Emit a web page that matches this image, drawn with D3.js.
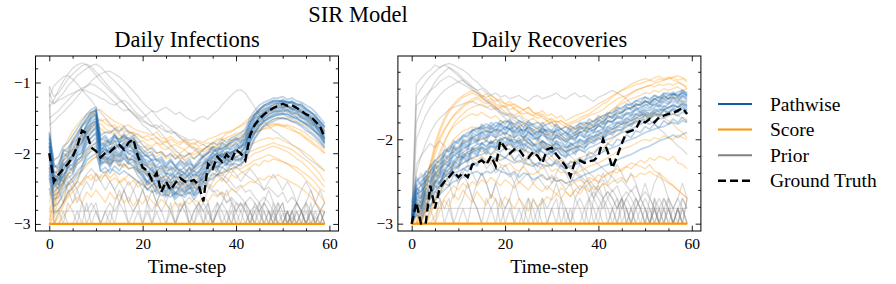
<!DOCTYPE html>
<html><head><meta charset="utf-8">
<script src="https://cdn.jsdelivr.net/npm/d3@7"></script>
<style>
body{margin:0;background:#fff}
svg{display:block;font-family:"Liberation Serif","DejaVu Serif","Noto Serif","Times New Roman",serif}
text{font-family:"Liberation Serif","DejaVu Serif","Noto Serif","Times New Roman",serif;fill:#000}
</style>
</head><body>
<svg id="chart" width="896" height="284"></svg>
<script>
// ---------------- DATA ----------------
const xTicks = [0, 20, 40, 60];
const xMinorTicks = [5, 10, 15, 25, 30, 35, 45, 50, 55];
const infYTicks = [-3, -2, -1];
const recYTicks = [-3, -2];
const legendLabels = ["Pathwise", "Score", "Prior", "Ground Truth"];

const infGroundTruth = [
-2.00,-2.40,-2.30,-2.22,-2.15,-2.05,-1.90,-1.68,-1.72,-1.92,
-1.97,-2.06,-2.00,-1.98,-1.92,-1.88,-1.95,-1.85,-1.80,-2.05,
-2.20,-2.25,-2.38,-2.28,-2.55,-2.40,-2.52,-2.42,-2.35,-2.40,
-2.40,-2.38,-2.45,-2.68,-2.15,-2.22,-2.05,-2.12,-2.02,-2.10,
-1.95,-2.00,-2.10,-1.75,-1.60,-1.52,-1.45,-1.40,-1.36,-1.33,
-1.30,-1.33,-1.32,-1.36,-1.40,-1.45,-1.48,-1.55,-1.62,-1.78];

const infPathwise = [
[-1.80,-2.25,-2.30,-2.05,-2.00,-1.95,-1.80,-1.75,-1.60,-1.52,-1.45,-1.90,-1.82,-1.85,-1.78,-1.80,-1.75,-1.82,-1.85,-1.90,-2.00,-2.05,-2.10,-2.08,-2.15,-2.20,-2.12,-2.18,-2.25,-2.20,-2.15,-2.18,-2.10,-2.05,-2.00,-1.95,-1.98,-1.92,-1.95,-1.90,-1.88,-1.85,-1.80,-1.62,-1.50,-1.42,-1.38,-1.35,-1.30,-1.28,-1.27,-1.30,-1.28,-1.32,-1.35,-1.40,-1.45,-1.50,-1.55,-1.62],
[-1.95,-2.40,-2.38,-2.25,-2.15,-2.10,-1.98,-1.90,-1.72,-1.62,-1.58,-2.00,-1.95,-2.00,-1.90,-1.92,-1.88,-1.95,-1.98,-2.05,-2.12,-2.20,-2.25,-2.30,-2.35,-2.32,-2.38,-2.30,-2.28,-2.35,-2.30,-2.25,-2.28,-2.20,-2.10,-2.05,-2.00,-2.05,-1.98,-2.02,-1.95,-1.92,-1.85,-1.70,-1.58,-1.50,-1.45,-1.40,-1.38,-1.36,-1.34,-1.35,-1.38,-1.40,-1.42,-1.48,-1.52,-1.58,-1.65,-1.72],
[-2.10,-2.45,-2.50,-2.30,-2.25,-2.20,-2.10,-2.05,-1.85,-1.78,-1.72,-2.08,-2.05,-2.10,-2.02,-2.05,-2.00,-2.08,-2.10,-2.15,-2.25,-2.32,-2.40,-2.38,-2.48,-2.45,-2.50,-2.42,-2.40,-2.48,-2.45,-2.40,-2.42,-2.35,-2.20,-2.15,-2.12,-2.15,-2.08,-2.12,-2.05,-2.02,-1.98,-1.80,-1.68,-1.58,-1.52,-1.48,-1.45,-1.42,-1.40,-1.42,-1.45,-1.48,-1.50,-1.55,-1.60,-1.65,-1.72,-1.80],
[-1.75,-2.20,-2.15,-1.98,-1.92,-1.85,-1.72,-1.62,-1.50,-1.42,-1.40,-1.85,-1.88,-1.80,-1.75,-1.85,-1.80,-1.78,-1.88,-1.95,-2.05,-2.02,-2.12,-2.18,-2.10,-2.22,-2.18,-2.25,-2.15,-2.22,-2.28,-2.20,-2.15,-2.12,-2.05,-2.00,-1.92,-1.95,-1.88,-1.85,-1.82,-1.78,-1.70,-1.55,-1.45,-1.38,-1.32,-1.28,-1.26,-1.25,-1.28,-1.27,-1.30,-1.35,-1.38,-1.42,-1.48,-1.52,-1.60,-1.68],
[-2.00,-2.30,-2.35,-2.15,-2.10,-2.02,-1.92,-1.85,-1.68,-1.58,-1.55,-1.95,-2.00,-1.92,-1.95,-1.88,-1.92,-1.90,-1.95,-2.02,-2.15,-2.18,-2.22,-2.28,-2.25,-2.30,-2.28,-2.35,-2.32,-2.28,-2.35,-2.30,-2.32,-2.25,-2.15,-2.08,-2.05,-2.00,-2.02,-1.98,-1.95,-1.90,-1.88,-1.72,-1.60,-1.52,-1.48,-1.42,-1.40,-1.38,-1.36,-1.38,-1.40,-1.42,-1.46,-1.50,-1.55,-1.62,-1.68,-1.78],
[-2.05,-2.42,-2.45,-2.32,-2.20,-2.15,-2.05,-1.98,-1.80,-1.70,-1.65,-2.05,-2.10,-2.05,-1.98,-2.02,-1.95,-2.00,-2.05,-2.10,-2.20,-2.25,-2.30,-2.35,-2.40,-2.38,-2.42,-2.38,-2.45,-2.40,-2.38,-2.45,-2.40,-2.30,-2.18,-2.12,-2.08,-2.10,-2.05,-2.05,-2.00,-1.98,-1.92,-1.75,-1.62,-1.55,-1.50,-1.45,-1.42,-1.40,-1.38,-1.40,-1.42,-1.45,-1.48,-1.52,-1.58,-1.62,-1.70,-1.82],
[-1.85,-2.28,-2.25,-2.10,-2.05,-1.95,-1.85,-1.78,-1.58,-1.50,-1.45,-1.88,-1.90,-1.88,-1.82,-1.85,-1.82,-1.85,-1.90,-1.98,-2.08,-2.10,-2.15,-2.20,-2.18,-2.25,-2.22,-2.20,-2.25,-2.28,-2.22,-2.25,-2.20,-2.15,-2.08,-2.02,-2.00,-1.98,-1.92,-1.95,-1.90,-1.88,-1.82,-1.65,-1.52,-1.45,-1.40,-1.36,-1.32,-1.30,-1.30,-1.32,-1.35,-1.36,-1.40,-1.45,-1.48,-1.55,-1.60,-1.70],
[-2.50,-2.75,-2.70,-2.55,-2.45,-2.40,-2.30,-2.25,-2.10,-2.05,-2.00,-2.25,-2.28,-2.22,-2.25,-2.30,-2.25,-2.30,-2.35,-2.40,-2.45,-2.50,-2.55,-2.52,-2.60,-2.58,-2.62,-2.55,-2.60,-2.58,-2.55,-2.60,-2.55,-2.50,-2.40,-2.35,-2.30,-2.28,-2.25,-2.22,-2.20,-2.15,-2.10,-1.95,-1.80,-1.70,-1.62,-1.58,-1.55,-1.52,-1.50,-1.52,-1.55,-1.58,-1.62,-1.68,-1.72,-1.78,-1.85,-1.92],
[-2.30,-2.85,-2.80,-2.70,-2.55,-2.50,-2.40,-2.20,-2.00,-1.90,-1.85,-2.15,-2.12,-2.15,-2.10,-2.12,-2.08,-2.15,-2.18,-2.25,-2.35,-2.40,-2.45,-2.42,-2.50,-2.48,-2.52,-2.48,-2.50,-2.55,-2.50,-2.48,-2.52,-2.42,-2.28,-2.22,-2.18,-2.20,-2.15,-2.18,-2.10,-2.08,-2.02,-1.85,-1.72,-1.62,-1.55,-1.50,-1.48,-1.45,-1.44,-1.45,-1.48,-1.50,-1.55,-1.58,-1.62,-1.70,-1.75,-1.85],
[-1.90,-2.35,-2.30,-2.18,-2.08,-2.05,-1.88,-1.82,-1.65,-1.55,-1.50,-1.92,-1.95,-1.98,-1.88,-1.90,-1.85,-1.88,-1.92,-2.00,-2.10,-2.15,-2.18,-2.25,-2.22,-2.28,-2.32,-2.25,-2.30,-2.32,-2.28,-2.32,-2.25,-2.18,-2.12,-2.05,-2.02,-2.05,-1.98,-2.00,-1.92,-1.90,-1.85,-1.68,-1.55,-1.48,-1.42,-1.38,-1.35,-1.33,-1.32,-1.34,-1.36,-1.38,-1.42,-1.46,-1.50,-1.56,-1.62,-1.75],
[-1.85,-2.30,-2.42,-2.15,-2.22,-2.00,-1.92,-1.70,-1.62,-1.48,-1.42,-1.98,-1.85,-1.95,-1.82,-1.95,-1.85,-1.92,-1.80,-2.00,-2.05,-2.15,-2.08,-2.25,-2.18,-2.30,-2.20,-2.35,-2.22,-2.30,-2.20,-2.35,-2.28,-2.15,-2.10,-1.98,-2.08,-1.95,-2.02,-1.92,-1.85,-1.95,-1.78,-1.60,-1.48,-1.40,-1.35,-1.32,-1.28,-1.30,-1.25,-1.30,-1.27,-1.33,-1.30,-1.38,-1.42,-1.48,-1.58,-1.65],
[-2.15,-2.50,-2.35,-2.40,-2.18,-2.25,-2.02,-2.00,-1.80,-1.72,-1.62,-2.12,-1.98,-2.15,-2.00,-2.10,-1.95,-2.12,-2.02,-2.20,-2.28,-2.40,-2.32,-2.48,-2.40,-2.55,-2.42,-2.58,-2.45,-2.52,-2.40,-2.55,-2.45,-2.30,-2.25,-2.12,-2.20,-2.05,-2.15,-2.02,-2.05,-2.08,-1.95,-1.78,-1.65,-1.55,-1.50,-1.45,-1.42,-1.40,-1.42,-1.38,-1.45,-1.42,-1.50,-1.52,-1.58,-1.62,-1.72,-1.85],
[-1.70,-2.15,-2.25,-2.00,-2.05,-1.85,-1.80,-1.62,-1.55,-1.45,-1.38,-1.80,-1.75,-1.85,-1.72,-1.82,-1.72,-1.80,-1.75,-1.88,-1.95,-2.00,-1.98,-2.10,-2.05,-2.15,-2.08,-2.18,-2.10,-2.15,-2.08,-2.20,-2.12,-2.02,-1.98,-1.90,-1.95,-1.85,-1.90,-1.82,-1.78,-1.82,-1.72,-1.55,-1.45,-1.38,-1.32,-1.30,-1.25,-1.27,-1.24,-1.28,-1.26,-1.30,-1.32,-1.36,-1.42,-1.46,-1.55,-1.62],
[-2.25,-2.60,-2.55,-2.45,-2.35,-2.30,-2.15,-2.10,-1.95,-1.85,-1.78,-2.18,-2.10,-2.20,-2.08,-2.18,-2.05,-2.15,-2.12,-2.25,-2.32,-2.45,-2.38,-2.52,-2.48,-2.58,-2.50,-2.62,-2.52,-2.58,-2.48,-2.60,-2.50,-2.40,-2.30,-2.20,-2.25,-2.12,-2.18,-2.08,-2.10,-2.12,-2.02,-1.85,-1.72,-1.62,-1.55,-1.52,-1.48,-1.46,-1.45,-1.48,-1.50,-1.52,-1.55,-1.60,-1.65,-1.70,-1.78,-1.88],
[-1.90,-2.35,-2.45,-2.22,-2.12,-2.08,-1.95,-1.85,-1.70,-1.60,-1.50,-1.95,-1.90,-2.02,-1.92,-2.00,-1.90,-1.98,-1.95,-2.08,-2.15,-2.28,-2.20,-2.35,-2.28,-2.40,-2.30,-2.42,-2.32,-2.38,-2.30,-2.42,-2.35,-2.22,-2.18,-2.05,-2.12,-2.00,-2.08,-1.98,-1.98,-2.00,-1.90,-1.72,-1.58,-1.48,-1.42,-1.38,-1.35,-1.32,-1.35,-1.33,-1.38,-1.36,-1.42,-1.45,-1.52,-1.58,-1.66,-1.78],
[-2.00,-2.45,-2.30,-2.35,-2.15,-2.18,-2.00,-1.95,-1.75,-1.65,-1.55,-2.02,-1.92,-2.08,-1.95,-2.05,-1.92,-2.02,-1.98,-2.12,-2.22,-2.32,-2.25,-2.40,-2.35,-2.45,-2.38,-2.50,-2.40,-2.45,-2.35,-2.48,-2.38,-2.28,-2.20,-2.10,-2.15,-2.02,-2.10,-2.00,-1.95,-2.02,-1.88,-1.70,-1.58,-1.50,-1.46,-1.40,-1.38,-1.35,-1.36,-1.34,-1.38,-1.40,-1.44,-1.48,-1.54,-1.60,-1.68,-1.80],
[-1.72,-2.10,-2.05,-1.90,-1.85,-1.75,-1.65,-1.55,-1.45,-1.38,-1.35,-1.75,-1.70,-1.72,-1.65,-1.70,-1.62,-1.70,-1.72,-1.80,-1.88,-1.95,-1.92,-2.00,-1.98,-2.05,-2.00,-2.08,-2.02,-2.05,-2.00,-2.08,-2.02,-1.95,-1.90,-1.85,-1.88,-1.80,-1.85,-1.78,-1.75,-1.72,-1.65,-1.50,-1.40,-1.32,-1.28,-1.25,-1.22,-1.22,-1.20,-1.24,-1.22,-1.26,-1.28,-1.32,-1.36,-1.42,-1.50,-1.58],
[-2.35,-2.65,-2.62,-2.50,-2.42,-2.35,-2.25,-2.18,-2.05,-1.95,-1.90,-2.25,-2.20,-2.28,-2.18,-2.25,-2.15,-2.22,-2.20,-2.32,-2.40,-2.52,-2.45,-2.58,-2.52,-2.62,-2.55,-2.65,-2.58,-2.62,-2.55,-2.65,-2.55,-2.45,-2.38,-2.28,-2.32,-2.20,-2.25,-2.15,-2.15,-2.18,-2.08,-1.92,-1.78,-1.68,-1.60,-1.56,-1.52,-1.50,-1.50,-1.52,-1.55,-1.56,-1.60,-1.64,-1.70,-1.75,-1.82,-1.92],
[-1.78,-2.18,-2.20,-1.95,-1.98,-1.82,-1.75,-1.60,-1.52,-1.42,-1.38,-1.82,-1.78,-1.88,-1.75,-1.85,-1.75,-1.82,-1.78,-1.92,-1.98,-2.05,-2.02,-2.12,-2.08,-2.18,-2.10,-2.20,-2.12,-2.18,-2.12,-2.22,-2.15,-2.05,-2.00,-1.92,-1.98,-1.88,-1.92,-1.85,-1.80,-1.85,-1.75,-1.58,-1.46,-1.38,-1.33,-1.30,-1.27,-1.26,-1.26,-1.27,-1.28,-1.30,-1.33,-1.38,-1.42,-1.48,-1.56,-1.64],
[-2.20,-2.55,-2.48,-2.42,-2.28,-2.28,-2.10,-2.05,-1.88,-1.78,-1.70,-2.15,-2.05,-2.18,-2.05,-2.12,-2.02,-2.10,-2.08,-2.22,-2.30,-2.42,-2.35,-2.50,-2.45,-2.55,-2.45,-2.58,-2.48,-2.55,-2.45,-2.58,-2.48,-2.35,-2.28,-2.18,-2.22,-2.10,-2.15,-2.05,-2.08,-2.10,-2.00,-1.82,-1.70,-1.60,-1.54,-1.50,-1.46,-1.44,-1.44,-1.45,-1.48,-1.50,-1.54,-1.58,-1.62,-1.68,-1.76,-1.86]
];

const infScore = [
[-2.80,-2.60,-2.35,-2.10,-1.95,-1.80,-1.70,-1.62,-1.55,-1.48,-1.40,-1.38,-1.45,-1.50,-1.55,-1.58,-1.62,-1.60,-1.65,-1.68,-1.70,-1.72,-1.75,-1.70,-1.78,-1.80,-1.76,-1.82,-1.85,-1.80,-1.85,-1.88,-1.82,-1.85,-1.80,-1.78,-1.75,-1.72,-1.70,-1.68,-1.65,-1.62,-1.58,-1.55,-1.50,-1.48,-1.45,-1.42,-1.40,-1.42,-1.38,-1.40,-1.42,-1.45,-1.48,-1.52,-1.55,-1.60,-1.65,-1.70],
[-2.90,-2.75,-2.55,-2.40,-2.20,-2.05,-1.92,-1.85,-1.75,-1.70,-1.62,-1.58,-1.65,-1.70,-1.68,-1.75,-1.78,-1.72,-1.80,-1.85,-1.82,-1.88,-1.90,-1.85,-1.92,-1.95,-1.90,-1.98,-2.00,-1.95,-2.02,-1.98,-1.92,-1.95,-1.90,-1.92,-1.88,-1.85,-1.80,-1.82,-1.78,-1.75,-1.72,-1.70,-1.68,-1.65,-1.62,-1.60,-1.58,-1.60,-1.62,-1.65,-1.68,-1.70,-1.75,-1.80,-1.85,-1.90,-1.95,-2.00],
[-3.00,-2.85,-2.70,-2.60,-2.45,-2.35,-2.28,-2.20,-2.15,-2.10,-2.05,-2.00,-2.08,-2.12,-2.05,-2.15,-2.20,-2.12,-2.18,-2.25,-2.20,-2.28,-2.30,-2.25,-2.35,-2.30,-2.38,-2.32,-2.40,-2.35,-2.30,-2.38,-2.32,-2.28,-2.25,-2.20,-2.18,-2.15,-2.10,-2.12,-2.05,-2.02,-2.00,-1.98,-1.95,-1.92,-1.90,-1.88,-1.85,-1.88,-1.90,-1.92,-1.95,-2.00,-2.05,-2.10,-2.15,-2.22,-2.30,-2.40],
[-2.70,-2.40,-2.15,-1.95,-1.80,-1.68,-1.60,-1.52,-1.45,-1.42,-1.48,-1.55,-1.52,-1.60,-1.65,-1.62,-1.70,-1.68,-1.75,-1.72,-1.78,-1.82,-1.80,-1.85,-1.88,-1.82,-1.90,-1.88,-1.92,-1.95,-1.90,-1.92,-1.95,-1.98,-1.95,-1.92,-1.90,-1.85,-1.88,-1.82,-1.80,-1.78,-1.75,-1.72,-1.70,-1.68,-1.66,-1.65,-1.62,-1.60,-1.62,-1.60,-1.62,-1.65,-1.68,-1.72,-1.78,-1.82,-1.88,-1.95],
[-3.00,-2.90,-2.80,-2.70,-2.60,-2.48,-2.40,-2.45,-2.35,-2.30,-2.40,-2.32,-2.25,-2.35,-2.28,-2.40,-2.35,-2.45,-2.38,-2.48,-2.42,-2.52,-2.45,-2.55,-2.48,-2.60,-2.52,-2.45,-2.55,-2.48,-2.58,-2.50,-2.45,-2.52,-2.42,-2.48,-2.40,-2.35,-2.42,-2.30,-2.35,-2.28,-2.25,-2.20,-2.15,-2.18,-2.10,-2.12,-2.08,-2.10,-2.12,-2.15,-2.18,-2.20,-2.25,-2.30,-2.35,-2.42,-2.50,-2.55],
[-2.85,-2.65,-2.45,-2.25,-2.10,-1.98,-1.88,-1.80,-1.72,-1.65,-1.60,-1.65,-1.72,-1.68,-1.75,-1.80,-1.78,-1.85,-1.82,-1.88,-1.92,-1.90,-1.95,-2.00,-1.98,-2.05,-2.02,-2.08,-2.05,-2.10,-2.05,-2.08,-2.02,-2.05,-2.00,-1.98,-1.95,-1.92,-1.90,-1.88,-1.85,-1.82,-1.80,-1.75,-1.72,-1.68,-1.65,-1.62,-1.60,-1.58,-1.60,-1.62,-1.65,-1.70,-1.72,-1.78,-1.82,-1.88,-1.92,-2.00],
[-2.95,-2.80,-2.60,-2.45,-2.30,-2.20,-2.10,-2.02,-1.95,-1.90,-1.85,-1.80,-1.82,-1.88,-1.85,-1.90,-1.92,-1.88,-1.95,-1.98,-2.00,-1.95,-2.02,-2.05,-2.00,-2.08,-2.05,-2.02,-2.08,-2.05,-2.00,-2.02,-1.98,-1.95,-1.90,-1.85,-1.80,-1.78,-1.72,-1.70,-1.65,-1.60,-1.55,-1.50,-1.45,-1.42,-1.38,-1.35,-1.32,-1.30,-1.32,-1.34,-1.36,-1.38,-1.40,-1.45,-1.50,-1.55,-1.62,-1.68],
[-3.00,-3.00,-2.85,-2.70,-2.55,-2.45,-2.35,-2.25,-2.18,-2.10,-2.05,-2.10,-2.15,-2.08,-2.12,-2.18,-2.15,-2.22,-2.20,-2.28,-2.25,-2.30,-2.35,-2.32,-2.38,-2.35,-2.42,-2.38,-2.45,-2.40,-2.48,-2.42,-2.45,-2.40,-2.35,-2.38,-2.30,-2.32,-2.25,-2.28,-2.20,-2.22,-2.18,-2.15,-2.10,-2.08,-2.05,-2.02,-2.05,-2.08,-2.12,-2.15,-2.20,-2.25,-2.30,-2.38,-2.45,-2.52,-2.60,-2.70],
[-3.00,-3.00,-3.00,-2.90,-2.80,-2.70,-2.62,-2.70,-2.55,-2.62,-2.52,-2.60,-2.70,-2.55,-2.65,-2.58,-2.70,-2.62,-2.75,-2.65,-2.72,-2.60,-2.68,-2.75,-2.65,-2.72,-2.80,-2.70,-2.75,-2.68,-2.72,-2.65,-2.70,-2.62,-2.68,-2.58,-2.62,-2.55,-2.60,-2.50,-2.55,-2.48,-2.45,-2.40,-2.42,-2.35,-2.38,-2.32,-2.35,-2.30,-2.35,-2.38,-2.42,-2.45,-2.50,-2.55,-2.62,-2.70,-2.78,-2.85],
[-2.60,-2.45,-2.30,-2.12,-2.00,-1.90,-1.80,-1.72,-1.65,-1.58,-1.55,-1.52,-1.58,-1.62,-1.60,-1.68,-1.65,-1.72,-1.70,-1.75,-1.78,-1.75,-1.80,-1.78,-1.82,-1.85,-1.80,-1.85,-1.88,-1.82,-1.88,-1.85,-1.90,-1.88,-1.85,-1.88,-1.82,-1.80,-1.78,-1.75,-1.72,-1.70,-1.68,-1.65,-1.62,-1.60,-1.58,-1.55,-1.52,-1.50,-1.52,-1.50,-1.52,-1.55,-1.58,-1.60,-1.65,-1.70,-1.75,-1.82],
[-2.95,-2.70,-2.55,-2.42,-2.30,-2.22,-2.15,-2.08,-2.02,-1.98,-1.95,-1.98,-2.02,-1.98,-2.05,-2.02,-2.08,-2.05,-2.10,-2.12,-2.15,-2.18,-2.15,-2.20,-2.22,-2.18,-2.25,-2.22,-2.28,-2.25,-2.20,-2.22,-2.18,-2.15,-2.10,-2.12,-2.05,-2.02,-1.98,-2.00,-1.95,-1.92,-1.90,-1.88,-1.85,-1.82,-1.80,-1.78,-1.80,-1.78,-1.82,-1.85,-1.88,-1.92,-1.95,-2.00,-2.05,-2.12,-2.18,-2.25],
[-3.00,-3.00,-2.90,-2.75,-2.62,-2.55,-2.48,-2.40,-2.32,-2.38,-2.28,-2.35,-2.30,-2.40,-2.35,-2.42,-2.38,-2.30,-2.35,-2.42,-2.38,-2.45,-2.40,-2.48,-2.42,-2.50,-2.45,-2.40,-2.48,-2.42,-2.38,-2.45,-2.40,-2.35,-2.30,-2.32,-2.25,-2.28,-2.20,-2.22,-2.18,-2.15,-2.10,-2.05,-2.00,-1.98,-1.95,-1.92,-1.90,-1.92,-1.95,-1.98,-2.02,-2.08,-2.12,-2.18,-2.25,-2.32,-2.40,-2.48]
];
const infScoreFloor = [
-3,-3,-3,-3,-3,-3,-3,-3,-3,-3,-3,-3,-3,-3,-3,-3,-3,-3,-3,-3,
-3,-3,-3,-3,-3,-3,-3,-3,-3,-3,-3,-3,-3,-3,-3,-3,-3,-3,-3,-3,
-3,-3,-3,-3,-3,-3,-3,-3,-3,-3,-3,-3,-3,-3,-3,-3,-3,-3,-3,-3];

const infPrior = [
[-1.05,-1.20,-1.15,-1.05,-0.95,-0.88,-0.82,-0.76,-0.74,-0.78,-0.85,-0.92,-1.00,-1.08,-1.15,-1.22,-1.30,-1.38,-1.45,-1.52,-1.60,-1.65,-1.72,-1.78,-1.85,-1.90,-1.95,-2.02,-2.08,-2.15,-2.20,-2.28,-2.35,-2.40,-2.48,-2.55,-2.52,-2.60,-2.70,-2.62,-2.70,-2.75,-2.70,-2.82,-2.75,-2.85,-3.00,-2.82,-2.90,-3.00,-2.85,-3.00,-2.90,-3.00,-2.82,-3.00,-3.00,-2.90,-3.00,-3.00],
[-1.25,-1.30,-1.22,-1.15,-1.05,-0.98,-0.90,-0.85,-0.80,-0.76,-0.74,-0.78,-0.85,-0.92,-0.98,-1.05,-1.12,-1.20,-1.28,-1.35,-1.42,-1.50,-1.58,-1.65,-1.72,-1.80,-1.88,-1.95,-2.02,-2.10,-2.18,-2.25,-2.32,-2.40,-2.45,-2.52,-2.60,-2.55,-2.70,-2.65,-2.82,-2.70,-2.82,-3.00,-2.82,-2.70,-2.82,-3.00,-2.82,-3.00,-3.00,-2.82,-3.00,-2.82,-3.00,-3.00,-2.82,-3.00,-3.00,-2.82],
[-1.15,-1.30,-1.25,-1.22,-1.18,-1.15,-1.12,-1.10,-1.12,-1.15,-1.18,-1.22,-1.25,-1.30,-1.32,-1.28,-1.25,-1.30,-1.38,-1.45,-1.50,-1.45,-1.40,-1.42,-1.38,-1.35,-1.40,-1.45,-1.42,-1.48,-1.52,-1.55,-1.50,-1.48,-1.52,-1.45,-1.40,-1.32,-1.25,-1.18,-1.12,-1.10,-1.15,-1.25,-1.35,-1.45,-1.55,-1.62,-1.68,-1.72,-1.78,-1.82,-1.88,-1.92,-1.98,-2.05,-2.10,-2.15,-2.20,-2.25],
[-1.35,-1.25,-1.10,-0.98,-0.88,-0.80,-0.75,-0.72,-0.75,-0.82,-0.90,-0.98,-1.05,-1.12,-1.18,-1.25,-1.30,-1.38,-1.42,-1.48,-1.52,-1.58,-1.62,-1.60,-1.65,-1.70,-1.68,-1.72,-1.78,-1.82,-1.88,-1.92,-1.98,-2.05,-2.10,-2.15,-2.22,-2.30,-2.35,-2.42,-2.50,-2.45,-2.55,-2.52,-2.62,-2.70,-2.62,-2.70,-2.82,-2.70,-2.82,-3.00,-2.82,-2.70,-2.82,-3.00,-2.82,-3.00,-2.82,-3.00],
[-1.60,-1.55,-1.48,-1.42,-1.35,-1.28,-1.20,-1.12,-1.05,-0.98,-0.92,-0.88,-0.85,-0.84,-0.88,-0.92,-0.98,-1.05,-1.12,-1.20,-1.28,-1.35,-1.40,-1.48,-1.55,-1.60,-1.65,-1.72,-1.78,-1.85,-1.90,-1.95,-2.00,-2.08,-2.15,-2.20,-2.28,-2.35,-2.42,-2.50,-2.55,-2.62,-2.70,-2.62,-2.70,-2.82,-2.70,-2.82,-3.00,-2.82,-3.00,-2.82,-3.00,-3.00,-2.82,-3.00,-2.82,-3.00,-3.00,-2.82],
[-1.20,-1.05,-0.98,-0.92,-0.90,-0.95,-1.02,-1.10,-1.18,-1.25,-1.35,-1.42,-1.50,-1.58,-1.65,-1.72,-1.80,-1.88,-1.95,-2.02,-2.10,-2.18,-2.25,-2.32,-2.40,-2.45,-2.52,-2.60,-2.55,-2.70,-2.62,-2.70,-2.82,-2.70,-2.82,-3.00,-2.82,-2.70,-2.82,-3.00,-2.82,-3.00,-3.00,-2.82,-3.00,-2.82,-3.00,-3.00,-2.82,-3.00,-3.00,-3.00,-2.82,-3.00,-3.00,-2.82,-3.00,-3.00,-3.00,-3.00],
[-1.50,-1.45,-1.40,-1.32,-1.25,-1.18,-1.12,-1.08,-1.05,-1.02,-1.05,-1.10,-1.15,-1.22,-1.28,-1.35,-1.40,-1.38,-1.45,-1.50,-1.55,-1.58,-1.62,-1.65,-1.60,-1.68,-1.72,-1.70,-1.75,-1.78,-1.82,-1.80,-1.85,-1.88,-1.92,-1.95,-2.00,-2.05,-2.10,-2.15,-2.20,-2.25,-2.30,-2.35,-2.40,-2.45,-2.52,-2.48,-2.55,-2.62,-2.55,-2.70,-2.62,-2.70,-2.82,-2.70,-2.82,-2.70,-2.82,-3.00],
[-1.30,-3.00,-2.82,-3.00,-2.70,-2.82,-3.00,-2.70,-3.00,-2.82,-2.70,-3.00,-2.82,-3.00,-2.70,-2.52,-2.70,-3.00,-2.82,-2.70,-3.00,-2.82,-3.00,-2.70,-2.82,-3.00,-2.70,-3.00,-2.82,-2.70,-3.00,-2.82,-2.70,-3.00,-2.82,-3.00,-2.70,-2.82,-3.00,-2.70,-3.00,-2.82,-2.70,-3.00,-2.82,-3.00,-2.70,-2.82,-3.00,-2.70,-3.00,-2.82,-3.00,-2.70,-2.82,-3.00,-2.70,-3.00,-2.82,-2.70],
[-2.20,-2.70,-2.52,-2.70,-2.40,-2.52,-2.70,-2.52,-2.40,-2.52,-2.30,-2.40,-2.52,-2.40,-2.52,-2.70,-2.52,-2.40,-2.52,-2.70,-2.52,-2.70,-2.82,-2.70,-2.52,-2.70,-2.82,-3.00,-2.82,-2.70,-2.82,-3.00,-2.70,-2.82,-3.00,-2.82,-2.70,-3.00,-2.82,-3.00,-2.70,-2.82,-3.00,-2.82,-3.00,-2.70,-3.00,-2.82,-3.00,-2.82,-2.70,-3.00,-2.82,-3.00,-2.82,-3.00,-3.00,-2.82,-3.00,-2.82],
[-2.82,-2.82,-2.82,-2.82,-2.82,-2.82,-2.82,-2.82,-2.82,-2.82,-2.82,-2.82,-2.82,-2.82,-2.82,-2.82,-2.82,-2.82,-2.82,-2.82,-2.82,-2.82,-2.82,-2.82,-2.82,-2.82,-2.82,-2.82,-2.82,-2.82,-2.82,-2.82,-2.82,-2.82,-2.82,-2.82,-2.82,-2.82,-2.82,-2.82,-2.82,-2.82,-2.82,-2.82,-2.82,-2.82,-2.82,-2.82,-2.82,-2.82,-2.82,-2.82,-2.82,-2.82,-2.82,-2.82,-2.82,-2.82,-2.82,-2.82],
[-1.90,-2.40,-2.52,-2.40,-2.30,-2.40,-2.52,-2.40,-2.30,-2.22,-2.30,-2.40,-2.30,-2.40,-2.52,-2.40,-2.52,-2.70,-2.52,-2.40,-2.52,-2.70,-2.52,-2.70,-2.82,-2.70,-2.52,-2.70,-2.82,-2.70,-3.00,-2.82,-2.70,-2.82,-2.70,-3.00,-2.82,-2.70,-2.52,-2.70,-2.82,-2.70,-2.82,-3.00,-2.70,-2.82,-2.70,-2.52,-2.70,-2.82,-2.70,-3.00,-2.82,-2.70,-2.82,-2.70,-2.52,-2.70,-2.82,-2.70],
[-1.06,-3.00,-3.00,-2.82,-3.00,-3.00,-2.82,-3.00,-2.70,-3.00,-2.82,-3.00,-3.00,-2.82,-3.00,-2.70,-2.82,-3.00,-3.00,-2.82,-3.00,-2.70,-3.00,-2.82,-3.00,-3.00,-2.82,-3.00,-2.70,-2.82,-3.00,-3.00,-2.82,-3.00,-2.70,-3.00,-2.82,-3.00,-3.00,-2.82,-3.00,-3.00,-2.70,-2.82,-3.00,-3.00,-2.82,-3.00,-2.70,-3.00,-3.00,-2.82,-3.00,-2.82,-3.00,-2.70,-3.00,-3.00,-2.82,-3.00],
[-2.52,-2.40,-2.30,-2.40,-2.52,-2.70,-2.52,-2.70,-2.82,-2.70,-2.82,-3.00,-2.82,-2.70,-2.82,-2.70,-2.52,-2.70,-2.82,-2.70,-2.52,-2.40,-2.52,-2.70,-2.52,-2.40,-2.52,-2.40,-2.30,-2.40,-2.52,-2.40,-2.52,-2.70,-2.52,-2.40,-2.30,-2.40,-2.30,-2.22,-2.30,-2.40,-2.30,-2.22,-2.30,-2.40,-2.52,-2.40,-2.30,-2.40,-2.52,-2.40,-2.52,-2.70,-2.52,-2.40,-2.52,-2.70,-2.52,-2.70]
];

const recGroundTruth = [
-3.00,-2.75,-3.00,-3.00,-2.55,-2.82,-2.58,-2.50,-2.45,-2.38,
-2.45,-2.40,-2.45,-2.30,-2.28,-2.25,-2.30,-2.20,-2.32,-2.02,
-2.10,-2.17,-2.12,-2.12,-2.20,-2.22,-2.15,-2.20,-2.28,-2.12,
-2.10,-2.18,-2.25,-2.32,-2.44,-2.26,-2.25,-2.28,-2.26,-2.25,
-2.20,-2.00,-2.15,-2.34,-2.20,-2.05,-1.92,-1.90,-1.88,-1.77,
-1.80,-1.76,-1.80,-1.74,-1.72,-1.70,-1.69,-1.66,-1.63,-1.70];

const recPathwise = [
[-2.90,-2.60,-2.55,-2.50,-2.42,-2.35,-2.30,-2.25,-2.18,-2.15,-2.10,-2.05,-2.02,-1.98,-1.95,-1.92,-1.90,-1.92,-1.88,-1.90,-1.85,-1.88,-1.92,-1.90,-1.88,-1.92,-1.95,-1.90,-1.92,-1.88,-1.90,-1.92,-1.95,-1.92,-1.98,-1.95,-1.92,-1.90,-1.92,-1.88,-1.85,-1.82,-1.80,-1.78,-1.75,-1.72,-1.70,-1.68,-1.65,-1.62,-1.60,-1.58,-1.60,-1.56,-1.55,-1.52,-1.50,-1.52,-1.48,-1.50],
[-3.00,-2.70,-2.75,-2.65,-2.55,-2.50,-2.42,-2.38,-2.30,-2.28,-2.22,-2.20,-2.15,-2.12,-2.10,-2.05,-2.08,-2.02,-2.05,-2.00,-1.98,-2.02,-2.00,-2.05,-2.02,-1.98,-2.05,-2.08,-2.02,-2.05,-2.08,-2.02,-2.05,-2.10,-2.08,-2.05,-2.02,-2.05,-2.00,-1.98,-1.95,-1.92,-1.90,-1.88,-1.85,-1.82,-1.80,-1.78,-1.75,-1.72,-1.70,-1.72,-1.68,-1.66,-1.65,-1.62,-1.60,-1.62,-1.58,-1.60],
[-2.85,-2.55,-2.50,-2.45,-2.38,-2.30,-2.25,-2.18,-2.12,-2.08,-2.02,-1.98,-1.95,-1.90,-1.88,-1.85,-1.82,-1.85,-1.80,-1.82,-1.78,-1.80,-1.82,-1.78,-1.80,-1.84,-1.82,-1.80,-1.85,-1.82,-1.80,-1.85,-1.88,-1.85,-1.88,-1.85,-1.82,-1.80,-1.82,-1.78,-1.75,-1.72,-1.70,-1.68,-1.65,-1.62,-1.60,-1.58,-1.55,-1.52,-1.50,-1.52,-1.48,-1.50,-1.46,-1.45,-1.48,-1.44,-1.42,-1.45],
[-3.00,-2.80,-2.85,-2.72,-2.62,-2.58,-2.50,-2.45,-2.40,-2.35,-2.32,-2.28,-2.25,-2.22,-2.20,-2.18,-2.15,-2.18,-2.12,-2.15,-2.10,-2.12,-2.15,-2.10,-2.12,-2.15,-2.18,-2.12,-2.15,-2.18,-2.15,-2.12,-2.18,-2.20,-2.18,-2.15,-2.12,-2.15,-2.10,-2.08,-2.05,-2.02,-2.00,-1.98,-1.95,-1.92,-1.90,-1.88,-1.85,-1.82,-1.80,-1.82,-1.78,-1.76,-1.75,-1.72,-1.70,-1.72,-1.68,-1.70],
[-2.95,-2.65,-2.62,-2.55,-2.48,-2.42,-2.35,-2.30,-2.25,-2.20,-2.15,-2.12,-2.08,-2.05,-2.02,-2.00,-1.98,-1.95,-1.98,-1.95,-1.92,-1.95,-1.98,-1.95,-1.98,-1.95,-2.00,-1.98,-1.95,-1.98,-2.00,-1.98,-2.00,-2.02,-2.00,-1.98,-1.95,-1.98,-1.95,-1.92,-1.90,-1.88,-1.85,-1.82,-1.80,-1.78,-1.75,-1.72,-1.70,-1.68,-1.65,-1.66,-1.62,-1.60,-1.62,-1.58,-1.55,-1.58,-1.54,-1.56],
[-3.00,-2.75,-2.80,-2.70,-2.60,-2.52,-2.45,-2.40,-2.35,-2.30,-2.25,-2.22,-2.18,-2.15,-2.12,-2.10,-2.12,-2.08,-2.10,-2.05,-2.08,-2.05,-2.10,-2.08,-2.05,-2.10,-2.12,-2.15,-2.10,-2.12,-2.15,-2.10,-2.12,-2.15,-2.12,-2.10,-2.08,-2.10,-2.05,-2.02,-2.00,-1.98,-1.95,-1.92,-1.90,-1.88,-1.85,-1.82,-1.80,-1.78,-1.76,-1.75,-1.72,-1.70,-1.72,-1.68,-1.65,-1.68,-1.64,-1.66],
[-3.00,-2.90,-2.95,-2.85,-2.78,-2.72,-2.65,-2.60,-2.55,-2.50,-2.48,-2.45,-2.42,-2.40,-2.38,-2.42,-2.38,-2.40,-2.35,-2.38,-2.40,-2.42,-2.38,-2.45,-2.40,-2.42,-2.48,-2.45,-2.42,-2.48,-2.45,-2.50,-2.48,-2.52,-2.50,-2.48,-2.45,-2.42,-2.40,-2.38,-2.35,-2.32,-2.30,-2.28,-2.25,-2.22,-2.20,-2.18,-2.15,-2.12,-2.10,-2.08,-2.05,-2.02,-2.00,-1.98,-1.95,-1.98,-1.94,-1.92],
[-2.80,-2.50,-2.45,-2.40,-2.32,-2.25,-2.20,-2.15,-2.10,-2.05,-2.00,-1.96,-1.92,-1.90,-1.86,-1.88,-1.85,-1.88,-1.85,-1.82,-1.85,-1.88,-1.85,-1.88,-1.90,-1.86,-1.88,-1.92,-1.88,-1.90,-1.92,-1.90,-1.88,-1.92,-1.95,-1.92,-1.88,-1.85,-1.88,-1.85,-1.82,-1.78,-1.75,-1.72,-1.70,-1.68,-1.65,-1.62,-1.60,-1.58,-1.55,-1.56,-1.52,-1.50,-1.52,-1.48,-1.46,-1.48,-1.45,-1.48],
[-3.00,-2.68,-2.70,-2.60,-2.52,-2.45,-2.40,-2.35,-2.28,-2.25,-2.20,-2.15,-2.12,-2.10,-2.06,-2.05,-2.02,-2.05,-2.00,-2.02,-1.98,-2.00,-2.04,-2.02,-2.00,-2.04,-2.08,-2.05,-2.02,-2.06,-2.08,-2.05,-2.08,-2.10,-2.06,-2.04,-2.00,-2.02,-1.98,-1.96,-1.94,-1.90,-1.88,-1.85,-1.82,-1.80,-1.78,-1.75,-1.72,-1.70,-1.68,-1.70,-1.66,-1.64,-1.65,-1.62,-1.60,-1.62,-1.58,-1.62],
[-3.00,-2.85,-2.90,-2.78,-2.70,-2.62,-2.55,-2.50,-2.45,-2.40,-2.38,-2.35,-2.32,-2.30,-2.28,-2.25,-2.28,-2.25,-2.22,-2.25,-2.22,-2.25,-2.28,-2.25,-2.28,-2.30,-2.32,-2.28,-2.30,-2.32,-2.30,-2.28,-2.32,-2.35,-2.32,-2.30,-2.28,-2.25,-2.22,-2.20,-2.18,-2.15,-2.12,-2.10,-2.08,-2.05,-2.02,-2.00,-1.98,-1.95,-1.92,-1.90,-1.88,-1.86,-1.85,-1.82,-1.80,-1.82,-1.78,-1.80],
[-3.00,-2.60,-2.78,-2.52,-2.58,-2.40,-2.45,-2.28,-2.32,-2.18,-2.22,-2.08,-2.12,-2.00,-2.05,-1.95,-2.02,-1.92,-1.98,-1.90,-1.95,-1.88,-1.98,-1.92,-2.00,-1.90,-1.98,-2.02,-1.92,-2.00,-2.05,-1.95,-2.02,-2.08,-1.98,-2.02,-1.92,-1.98,-1.88,-1.92,-1.82,-1.88,-1.78,-1.80,-1.72,-1.75,-1.68,-1.70,-1.62,-1.65,-1.58,-1.62,-1.55,-1.60,-1.52,-1.56,-1.50,-1.55,-1.48,-1.52],
[-3.00,-2.78,-2.88,-2.65,-2.70,-2.55,-2.58,-2.42,-2.45,-2.32,-2.35,-2.22,-2.28,-2.15,-2.20,-2.10,-2.18,-2.08,-2.12,-2.05,-2.10,-2.02,-2.12,-2.05,-2.15,-2.08,-2.15,-2.20,-2.08,-2.15,-2.20,-2.10,-2.18,-2.22,-2.12,-2.18,-2.08,-2.12,-2.02,-2.05,-1.98,-2.02,-1.92,-1.95,-1.88,-1.90,-1.82,-1.85,-1.78,-1.80,-1.72,-1.76,-1.70,-1.74,-1.66,-1.70,-1.64,-1.68,-1.62,-1.66],
[-2.75,-2.45,-2.55,-2.38,-2.40,-2.25,-2.28,-2.12,-2.15,-2.02,-2.05,-1.95,-1.98,-1.88,-1.92,-1.82,-1.88,-1.80,-1.85,-1.78,-1.82,-1.76,-1.85,-1.80,-1.86,-1.78,-1.84,-1.88,-1.80,-1.86,-1.90,-1.82,-1.88,-1.92,-1.84,-1.88,-1.80,-1.84,-1.76,-1.80,-1.72,-1.76,-1.68,-1.70,-1.62,-1.65,-1.58,-1.60,-1.54,-1.56,-1.50,-1.54,-1.48,-1.52,-1.45,-1.48,-1.44,-1.48,-1.42,-1.46],
[-3.00,-2.88,-2.95,-2.75,-2.80,-2.62,-2.66,-2.52,-2.55,-2.42,-2.45,-2.35,-2.38,-2.28,-2.32,-2.22,-2.28,-2.20,-2.25,-2.18,-2.22,-2.15,-2.25,-2.18,-2.26,-2.20,-2.28,-2.32,-2.22,-2.28,-2.32,-2.24,-2.30,-2.35,-2.26,-2.30,-2.22,-2.26,-2.15,-2.18,-2.10,-2.14,-2.05,-2.08,-2.00,-2.02,-1.95,-1.98,-1.90,-1.92,-1.85,-1.88,-1.82,-1.86,-1.78,-1.82,-1.76,-1.80,-1.74,-1.78],
[-2.90,-2.55,-2.68,-2.45,-2.50,-2.32,-2.38,-2.20,-2.25,-2.10,-2.15,-2.02,-2.08,-1.95,-2.00,-1.90,-1.96,-1.86,-1.92,-1.84,-1.90,-1.82,-1.92,-1.85,-1.94,-1.85,-1.92,-1.96,-1.86,-1.94,-1.98,-1.88,-1.95,-2.00,-1.90,-1.95,-1.86,-1.90,-1.82,-1.86,-1.78,-1.82,-1.72,-1.75,-1.68,-1.70,-1.62,-1.65,-1.58,-1.60,-1.55,-1.58,-1.52,-1.56,-1.48,-1.52,-1.46,-1.50,-1.45,-1.48],
[-3.00,-2.70,-2.82,-2.58,-2.64,-2.48,-2.52,-2.36,-2.40,-2.26,-2.30,-2.16,-2.22,-2.10,-2.15,-2.04,-2.10,-2.02,-2.08,-1.98,-2.04,-1.96,-2.06,-1.98,-2.08,-2.00,-2.06,-2.12,-2.02,-2.08,-2.12,-2.02,-2.10,-2.14,-2.04,-2.10,-2.00,-2.04,-1.95,-1.98,-1.90,-1.95,-1.85,-1.88,-1.80,-1.82,-1.75,-1.78,-1.70,-1.72,-1.66,-1.70,-1.64,-1.68,-1.60,-1.64,-1.58,-1.62,-1.56,-1.60],
[-3.00,-2.62,-2.70,-2.48,-2.52,-2.38,-2.40,-2.25,-2.28,-2.15,-2.18,-2.05,-2.10,-1.98,-2.02,-1.92,-1.98,-1.90,-1.95,-1.88,-1.94,-1.86,-1.95,-1.90,-1.98,-1.92,-1.96,-2.00,-1.90,-1.98,-2.02,-1.94,-1.98,-2.04,-1.95,-2.00,-1.90,-1.95,-1.86,-1.90,-1.84,-1.86,-1.78,-1.80,-1.74,-1.76,-1.70,-1.72,-1.65,-1.68,-1.62,-1.64,-1.58,-1.62,-1.56,-1.58,-1.52,-1.56,-1.50,-1.54],
[-3.00,-2.75,-2.82,-2.62,-2.66,-2.50,-2.54,-2.40,-2.42,-2.30,-2.32,-2.20,-2.25,-2.12,-2.18,-2.08,-2.14,-2.04,-2.10,-2.02,-2.06,-2.00,-2.08,-2.02,-2.10,-2.04,-2.10,-2.16,-2.05,-2.12,-2.16,-2.06,-2.14,-2.18,-2.08,-2.14,-2.04,-2.08,-1.98,-2.02,-1.95,-1.98,-1.90,-1.92,-1.85,-1.86,-1.80,-1.82,-1.75,-1.76,-1.70,-1.74,-1.68,-1.72,-1.64,-1.68,-1.62,-1.66,-1.60,-1.64],
[-2.95,-2.58,-2.62,-2.42,-2.46,-2.30,-2.34,-2.18,-2.22,-2.08,-2.12,-2.00,-2.04,-1.92,-1.96,-1.86,-1.92,-1.84,-1.90,-1.82,-1.88,-1.80,-1.90,-1.84,-1.92,-1.82,-1.90,-1.94,-1.84,-1.92,-1.96,-1.86,-1.92,-1.96,-1.88,-1.92,-1.84,-1.88,-1.80,-1.84,-1.76,-1.80,-1.72,-1.74,-1.66,-1.68,-1.62,-1.64,-1.58,-1.60,-1.54,-1.58,-1.52,-1.55,-1.48,-1.52,-1.46,-1.50,-1.44,-1.48]
];

const recScore = [
[-3.00,-3.00,-2.85,-2.60,-2.35,-2.10,-1.92,-1.78,-1.68,-1.60,-1.55,-1.50,-1.48,-1.45,-1.48,-1.50,-1.46,-1.52,-1.55,-1.52,-1.58,-1.60,-1.58,-1.62,-1.65,-1.62,-1.68,-1.70,-1.66,-1.72,-1.70,-1.75,-1.72,-1.78,-1.75,-1.72,-1.70,-1.68,-1.65,-1.62,-1.58,-1.55,-1.52,-1.48,-1.45,-1.42,-1.40,-1.38,-1.35,-1.34,-1.32,-1.30,-1.32,-1.28,-1.30,-1.28,-1.27,-1.30,-1.28,-1.32],
[-3.00,-3.00,-3.00,-2.82,-2.62,-2.40,-2.20,-2.05,-1.92,-1.82,-1.75,-1.70,-1.65,-1.62,-1.60,-1.58,-1.62,-1.60,-1.65,-1.62,-1.68,-1.70,-1.72,-1.68,-1.75,-1.78,-1.75,-1.80,-1.82,-1.78,-1.85,-1.82,-1.88,-1.85,-1.90,-1.88,-1.85,-1.82,-1.80,-1.78,-1.75,-1.72,-1.70,-1.65,-1.62,-1.58,-1.55,-1.52,-1.50,-1.48,-1.45,-1.46,-1.42,-1.44,-1.40,-1.42,-1.40,-1.38,-1.42,-1.40],
[-3.00,-3.00,-3.00,-3.00,-2.85,-2.70,-2.55,-2.45,-2.35,-2.28,-2.22,-2.18,-2.15,-2.12,-2.10,-2.15,-2.12,-2.18,-2.15,-2.20,-2.22,-2.18,-2.25,-2.28,-2.22,-2.30,-2.28,-2.32,-2.35,-2.30,-2.38,-2.35,-2.40,-2.38,-2.42,-2.40,-2.38,-2.35,-2.32,-2.30,-2.28,-2.25,-2.22,-2.18,-2.15,-2.12,-2.10,-2.08,-2.05,-2.02,-2.00,-2.02,-1.98,-2.00,-1.96,-1.98,-2.00,-1.95,-1.98,-2.00],
[-3.00,-2.90,-2.70,-2.50,-2.30,-2.12,-1.98,-1.88,-1.80,-1.72,-1.68,-1.62,-1.58,-1.55,-1.52,-1.55,-1.58,-1.55,-1.60,-1.62,-1.60,-1.65,-1.62,-1.68,-1.70,-1.68,-1.72,-1.75,-1.72,-1.78,-1.80,-1.78,-1.82,-1.85,-1.82,-1.80,-1.78,-1.75,-1.72,-1.70,-1.68,-1.65,-1.60,-1.56,-1.52,-1.50,-1.48,-1.45,-1.42,-1.40,-1.38,-1.36,-1.38,-1.35,-1.36,-1.34,-1.36,-1.33,-1.35,-1.38],
[-3.00,-3.00,-3.00,-3.00,-3.00,-2.90,-2.80,-2.70,-2.62,-2.55,-2.60,-2.52,-2.58,-2.50,-2.55,-2.48,-2.52,-2.45,-2.50,-2.55,-2.48,-2.52,-2.58,-2.50,-2.55,-2.60,-2.52,-2.58,-2.62,-2.55,-2.60,-2.65,-2.58,-2.62,-2.68,-2.60,-2.55,-2.58,-2.52,-2.48,-2.50,-2.45,-2.42,-2.38,-2.40,-2.35,-2.32,-2.28,-2.30,-2.25,-2.28,-2.22,-2.25,-2.20,-2.22,-2.25,-2.20,-2.28,-2.30,-2.35],
[-3.00,-3.00,-2.90,-2.72,-2.52,-2.32,-2.15,-2.02,-1.92,-1.85,-1.80,-1.76,-1.72,-1.70,-1.72,-1.68,-1.72,-1.75,-1.72,-1.78,-1.80,-1.78,-1.82,-1.85,-1.82,-1.88,-1.90,-1.86,-1.92,-1.95,-1.92,-1.98,-1.95,-2.00,-1.98,-1.95,-1.92,-1.90,-1.88,-1.85,-1.82,-1.80,-1.78,-1.75,-1.72,-1.68,-1.65,-1.62,-1.60,-1.58,-1.55,-1.56,-1.52,-1.54,-1.50,-1.52,-1.50,-1.52,-1.55,-1.58],
[-3.00,-3.00,-3.00,-3.00,-2.90,-2.75,-2.62,-2.52,-2.45,-2.38,-2.32,-2.28,-2.25,-2.22,-2.25,-2.20,-2.25,-2.28,-2.22,-2.30,-2.32,-2.28,-2.35,-2.38,-2.32,-2.40,-2.42,-2.38,-2.45,-2.48,-2.42,-2.50,-2.48,-2.52,-2.55,-2.50,-2.48,-2.52,-2.45,-2.48,-2.42,-2.45,-2.40,-2.38,-2.35,-2.38,-2.32,-2.35,-2.30,-2.32,-2.35,-2.30,-2.38,-2.40,-2.45,-2.50,-2.55,-2.60,-2.65,-2.70],
[-3.00,-2.95,-2.75,-2.52,-2.28,-2.05,-1.88,-1.75,-1.65,-1.58,-1.52,-1.48,-1.45,-1.42,-1.45,-1.48,-1.50,-1.48,-1.52,-1.55,-1.58,-1.55,-1.60,-1.62,-1.65,-1.62,-1.68,-1.72,-1.70,-1.75,-1.78,-1.80,-1.78,-1.82,-1.85,-1.88,-1.85,-1.88,-1.85,-1.82,-1.78,-1.75,-1.70,-1.65,-1.60,-1.55,-1.50,-1.46,-1.42,-1.40,-1.38,-1.36,-1.34,-1.32,-1.30,-1.28,-1.26,-1.25,-1.27,-1.30],
[-3.00,-3.00,-3.00,-3.00,-3.00,-3.00,-2.85,-2.72,-2.80,-2.65,-2.72,-2.60,-2.68,-2.75,-2.62,-2.70,-2.78,-2.65,-2.72,-2.80,-2.68,-2.75,-2.82,-2.70,-2.78,-2.85,-2.72,-2.80,-2.75,-2.68,-2.72,-2.65,-2.70,-2.62,-2.68,-2.60,-2.65,-2.58,-2.62,-2.55,-2.60,-2.52,-2.55,-2.50,-2.48,-2.45,-2.50,-2.42,-2.45,-2.40,-2.42,-2.38,-2.42,-2.45,-2.48,-2.52,-2.55,-2.60,-2.65,-2.70],
[-3.00,-3.00,-2.95,-2.80,-2.62,-2.45,-2.30,-2.18,-2.08,-2.00,-1.95,-1.90,-1.88,-1.85,-1.88,-1.85,-1.90,-1.92,-1.88,-1.95,-1.98,-1.95,-2.00,-2.02,-1.98,-2.05,-2.08,-2.02,-2.08,-2.10,-2.05,-2.12,-2.10,-2.15,-2.12,-2.10,-2.08,-2.05,-2.02,-2.00,-1.98,-1.95,-1.92,-1.88,-1.85,-1.82,-1.80,-1.78,-1.75,-1.72,-1.70,-1.72,-1.68,-1.70,-1.66,-1.68,-1.70,-1.72,-1.75,-1.80],
[-3.00,-3.00,-3.00,-2.88,-2.70,-2.52,-2.38,-2.28,-2.20,-2.12,-2.08,-2.02,-2.00,-1.98,-2.02,-1.98,-2.02,-2.05,-2.00,-2.08,-2.10,-2.06,-2.12,-2.15,-2.10,-2.18,-2.20,-2.15,-2.22,-2.25,-2.20,-2.28,-2.25,-2.30,-2.28,-2.25,-2.22,-2.20,-2.18,-2.15,-2.12,-2.10,-2.05,-2.00,-1.95,-1.90,-1.86,-1.82,-1.78,-1.75,-1.72,-1.74,-1.70,-1.72,-1.75,-1.78,-1.82,-1.88,-1.92,-1.98],
[-3.00,-3.00,-2.80,-2.58,-2.38,-2.18,-2.02,-1.90,-1.80,-1.72,-1.65,-1.60,-1.56,-1.52,-1.50,-1.52,-1.55,-1.52,-1.58,-1.60,-1.62,-1.58,-1.65,-1.68,-1.65,-1.70,-1.72,-1.68,-1.75,-1.78,-1.75,-1.80,-1.78,-1.82,-1.80,-1.78,-1.75,-1.72,-1.70,-1.66,-1.62,-1.58,-1.55,-1.50,-1.46,-1.42,-1.38,-1.35,-1.32,-1.30,-1.28,-1.30,-1.27,-1.25,-1.28,-1.26,-1.30,-1.32,-1.35,-1.40]
];
const recScoreFloor = [
-3,-3,-3,-3,-3,-3,-3,-3,-3,-3,-3,-3,-3,-3,-3,-3,-3,-3,-3,-3,
-3,-3,-3,-3,-3,-3,-3,-3,-3,-3,-3,-3,-3,-3,-3,-3,-3,-3,-3,-3,
-3,-3,-3,-3,-3,-3,-3,-3,-3,-3,-3,-3,-3,-3,-3,-3,-3,-3,-3,-3];

const recPrior = [
[-3.00,-1.35,-1.28,-1.22,-1.18,-1.12,-1.15,-1.12,-1.15,-1.20,-1.25,-1.30,-1.35,-1.40,-1.45,-1.50,-1.55,-1.60,-1.65,-1.70,-1.75,-1.80,-1.85,-1.90,-1.95,-2.00,-2.05,-2.10,-2.15,-2.20,-2.25,-2.30,-2.35,-2.40,-2.45,-2.52,-2.60,-2.55,-2.70,-2.62,-2.70,-2.82,-2.70,-2.82,-3.00,-2.82,-2.70,-2.82,-3.00,-2.82,-3.00,-3.00,-2.82,-3.00,-3.00,-2.82,-3.00,-3.00,-2.82,-3.00],
[-3.00,-1.50,-1.40,-1.32,-1.25,-1.20,-1.15,-1.12,-1.10,-1.12,-1.15,-1.18,-1.22,-1.28,-1.32,-1.38,-1.42,-1.48,-1.52,-1.58,-1.62,-1.68,-1.72,-1.78,-1.82,-1.88,-1.92,-1.98,-2.02,-2.08,-2.12,-2.18,-2.22,-2.28,-2.32,-2.38,-2.42,-2.48,-2.52,-2.60,-2.55,-2.70,-2.62,-2.70,-2.82,-2.70,-2.82,-3.00,-2.82,-2.70,-2.82,-3.00,-2.82,-3.00,-3.00,-2.82,-3.00,-2.82,-3.00,-3.00],
[-3.00,-1.60,-1.55,-1.48,-1.42,-1.38,-1.32,-1.28,-1.25,-1.28,-1.32,-1.30,-1.35,-1.38,-1.42,-1.40,-1.45,-1.48,-1.45,-1.50,-1.48,-1.52,-1.50,-1.48,-1.52,-1.55,-1.50,-1.48,-1.52,-1.50,-1.48,-1.45,-1.50,-1.52,-1.48,-1.45,-1.50,-1.48,-1.52,-1.55,-1.50,-1.48,-1.45,-1.42,-1.45,-1.48,-1.52,-1.58,-1.62,-1.68,-1.72,-1.78,-1.82,-1.88,-1.92,-1.98,-2.02,-2.08,-2.12,-2.18],
[-3.00,-1.80,-1.65,-1.52,-1.42,-1.32,-1.25,-1.20,-1.15,-1.18,-1.22,-1.28,-1.32,-1.38,-1.42,-1.48,-1.52,-1.58,-1.62,-1.68,-1.72,-1.70,-1.75,-1.78,-1.82,-1.80,-1.85,-1.88,-1.92,-1.95,-2.00,-2.05,-2.10,-2.15,-2.20,-2.25,-2.30,-2.35,-2.40,-2.45,-2.52,-2.48,-2.55,-2.62,-2.55,-2.70,-2.62,-2.70,-2.82,-2.70,-2.82,-3.00,-2.82,-3.00,-2.70,-2.82,-3.00,-3.00,-2.82,-3.00],
[-3.00,-2.00,-1.85,-1.72,-1.62,-1.55,-1.48,-1.42,-1.38,-1.35,-1.32,-1.35,-1.38,-1.42,-1.45,-1.50,-1.55,-1.58,-1.62,-1.66,-1.70,-1.74,-1.78,-1.82,-1.86,-1.90,-1.95,-2.00,-2.05,-2.10,-2.15,-2.20,-2.25,-2.30,-2.35,-2.40,-2.45,-2.52,-2.48,-2.55,-2.62,-2.70,-2.62,-2.70,-2.82,-2.70,-2.82,-3.00,-2.82,-3.00,-3.00,-2.82,-3.00,-2.82,-3.00,-3.00,-3.00,-2.82,-3.00,-3.00],
[-3.00,-2.40,-2.20,-2.05,-1.92,-1.82,-1.75,-1.70,-1.65,-1.62,-1.60,-1.58,-1.56,-1.55,-1.58,-1.60,-1.62,-1.65,-1.62,-1.68,-1.70,-1.72,-1.75,-1.72,-1.78,-1.80,-1.82,-1.85,-1.88,-1.90,-1.92,-1.95,-1.98,-2.02,-2.05,-2.08,-2.12,-2.15,-2.20,-2.25,-2.30,-2.35,-2.40,-2.45,-2.52,-2.48,-2.55,-2.62,-2.55,-2.70,-2.62,-2.70,-2.82,-2.70,-2.82,-3.00,-2.82,-2.70,-2.82,-3.00],
[-3.00,-2.70,-3.00,-2.82,-2.70,-2.52,-2.70,-2.82,-2.70,-3.00,-2.82,-2.70,-2.52,-2.70,-2.82,-3.00,-2.70,-2.82,-2.70,-3.00,-2.82,-2.70,-3.00,-2.82,-3.00,-2.70,-2.82,-3.00,-2.70,-3.00,-2.82,-2.70,-3.00,-2.82,-3.00,-2.70,-2.82,-3.00,-2.70,-2.82,-3.00,-2.70,-3.00,-2.82,-2.70,-3.00,-2.82,-3.00,-2.70,-2.82,-3.00,-3.00,-2.70,-2.82,-3.00,-2.70,-3.00,-2.82,-3.00,-2.70],
[-3.00,-2.52,-2.40,-2.52,-2.30,-2.40,-2.52,-2.40,-2.30,-2.40,-2.52,-2.40,-2.52,-2.70,-2.52,-2.40,-2.52,-2.70,-2.52,-2.70,-2.82,-2.70,-2.52,-2.70,-2.82,-2.70,-3.00,-2.82,-2.70,-2.82,-2.70,-2.52,-2.70,-2.82,-3.00,-2.82,-2.70,-2.82,-2.70,-3.00,-2.82,-2.70,-2.82,-3.00,-2.82,-2.70,-3.00,-2.82,-2.70,-2.82,-3.00,-2.70,-2.82,-3.00,-2.82,-2.70,-2.82,-3.00,-2.70,-2.82],
[-2.82,-2.82,-2.82,-2.82,-2.82,-2.82,-2.82,-2.82,-2.82,-2.82,-2.82,-2.82,-2.82,-2.82,-2.82,-2.82,-2.82,-2.82,-2.82,-2.82,-2.82,-2.82,-2.82,-2.82,-2.82,-2.82,-2.82,-2.82,-2.82,-2.82,-2.82,-2.82,-2.82,-2.82,-2.82,-2.82,-2.82,-2.82,-2.82,-2.82,-2.82,-2.82,-2.82,-2.82,-2.82,-2.82,-2.82,-2.82,-2.82,-2.82,-2.82,-2.82,-2.82,-2.82,-2.82,-2.82,-2.82,-2.82,-2.82,-2.82],
[-3.00,-2.82,-3.00,-3.00,-2.82,-3.00,-2.70,-3.00,-2.82,-3.00,-3.00,-2.82,-3.00,-2.70,-2.82,-3.00,-3.00,-2.82,-3.00,-2.70,-3.00,-2.82,-3.00,-3.00,-2.82,-3.00,-2.70,-2.82,-3.00,-3.00,-2.82,-3.00,-2.70,-3.00,-2.82,-3.00,-3.00,-2.82,-3.00,-2.70,-2.82,-3.00,-3.00,-2.82,-3.00,-2.70,-3.00,-2.82,-3.00,-3.00,-2.82,-3.00,-2.70,-3.00,-2.82,-3.00,-3.00,-2.82,-3.00,-2.70],
[-3.00,-2.30,-2.20,-2.12,-2.05,-2.10,-2.02,-2.08,-2.15,-2.10,-2.18,-2.22,-2.15,-2.25,-2.30,-2.22,-2.35,-2.28,-2.40,-2.32,-2.38,-2.45,-2.40,-2.52,-2.45,-2.40,-2.52,-2.45,-2.52,-2.60,-2.52,-2.45,-2.52,-2.60,-2.52,-2.70,-2.60,-2.52,-2.60,-2.70,-2.60,-2.52,-2.70,-2.60,-2.70,-2.82,-2.70,-2.60,-2.70,-2.82,-2.70,-2.82,-3.00,-2.82,-2.70,-2.82,-3.00,-2.82,-2.70,-2.82],
[-3.00,-2.70,-2.52,-2.70,-2.82,-2.70,-2.52,-2.40,-2.52,-2.70,-2.52,-2.40,-2.30,-2.40,-2.52,-2.40,-2.52,-2.70,-2.52,-2.40,-2.30,-2.40,-2.52,-2.40,-2.30,-2.22,-2.30,-2.40,-2.30,-2.40,-2.52,-2.40,-2.30,-2.40,-2.52,-2.40,-2.30,-2.40,-2.52,-2.70,-2.52,-2.40,-2.52,-2.40,-2.30,-2.40,-2.52,-2.40,-2.52,-2.70,-2.52,-2.70,-2.52,-2.40,-2.52,-2.70,-2.82,-2.70,-2.52,-2.70]
];

// ---------------- STYLE / LAYOUT ----------------
const COLORS = {pathwise: "#0C5DA5", score: "#FF9500", prior: "#808080", truth: "#000000"};
const FONT = '"Liberation Serif","DejaVu Serif","Noto Serif","Times New Roman",serif';
const TOP = 56, BOTTOM = 231;
const X_DOMAIN = [-2.95, 61.95];

const svg = d3.select("#chart").attr("font-family", FONT);

svg.append("text").attr("x", 358).attr("y", 22).attr("text-anchor", "middle")
  .style("font-family", FONT).style("font-size", "22.5px").text("SIR Model");

const panels = [
  {title: "Daily Infections", x0: 35.5, x1: 338.5, yDomain: [-3.1, -0.625], yTicks: infYTicks,
   prior: infPrior, score: infScore, floor: infScoreFloor, path: infPathwise, truth: infGroundTruth},
  {title: "Daily Recoveries", x0: 397.9, x1: 700.9, yDomain: [-3.087, -1.013], yTicks: recYTicks,
   prior: recPrior, score: recScore, floor: recScoreFloor, path: recPathwise, truth: recGroundTruth}
];

panels.forEach((p, k) => {
  const x = d3.scaleLinear().domain(X_DOMAIN).range([p.x0, p.x1]);
  const y = d3.scaleLinear().domain(p.yDomain).range([BOTTOM, TOP]);
  const g = svg.append("g");
  const clipId = "clip" + k;
  svg.append("clipPath").attr("id", clipId).append("rect")
    .attr("x", p.x0).attr("y", TOP).attr("width", p.x1 - p.x0).attr("height", BOTTOM - TOP);
  const plot = g.append("g").attr("clip-path", `url(#${clipId})`);
  const line = d3.line().x((d, i) => x(i)).y(d => y(d));

  const drawSet = (set, color, op, w) => {
    plot.append("g").selectAll("path").data(set).join("path")
      .attr("d", d => line(d.slice(0, 60)))
      .attr("fill", "none").attr("stroke", color).attr("stroke-opacity", op)
      .attr("stroke-width", w).attr("stroke-linejoin", "round");
  };
  drawSet(p.prior, COLORS.prior, 0.28, 1.3);
  drawSet(p.score, COLORS.score, 0.33, 1.3);
  drawSet([p.floor], COLORS.score, 1, 2.2);
  drawSet(p.path, COLORS.pathwise, 0.27, 1.7);
  plot.append("path").attr("d", line(p.truth)).attr("fill", "none")
    .attr("stroke", COLORS.truth).attr("stroke-width", 2.4).attr("stroke-dasharray", "8,4");

  g.append("rect").attr("x", p.x0).attr("y", TOP).attr("width", p.x1 - p.x0).attr("height", BOTTOM - TOP)
    .attr("fill", "none").attr("stroke", "#000").attr("stroke-width", 1);

  const yMinor = d3.range(-3.0, p.yDomain[1], 0.2).filter(v => v > p.yDomain[0] && Math.abs(v - Math.round(v)) > 0.01);
  const fmt = d3.format("d");
  const styleAxis = sel => {
    sel.select(".domain").remove();
    sel.attr("font-family", FONT).attr("font-size", null);
    sel.selectAll("line").attr("stroke", "#000").attr("stroke-width", 0.9);
    sel.selectAll("text").style("font-family", FONT).style("font-size", "15.5px");
  };
  g.append("g").attr("transform", `translate(0,${BOTTOM})`)
    .call(d3.axisBottom(x).tickValues(xTicks).tickSize(-5.3).tickPadding(7).tickFormat(fmt)).call(styleAxis);
  g.append("g").attr("transform", `translate(0,${BOTTOM})`)
    .call(d3.axisBottom(x).tickValues(xMinorTicks).tickSize(-2.7).tickFormat("")).call(styleAxis);
  g.append("g").attr("transform", `translate(0,${TOP})`)
    .call(d3.axisTop(x).tickValues(xTicks).tickSize(-5.3).tickFormat("")).call(styleAxis);
  g.append("g").attr("transform", `translate(0,${TOP})`)
    .call(d3.axisTop(x).tickValues(xMinorTicks).tickSize(-2.7).tickFormat("")).call(styleAxis);
  g.append("g").attr("transform", `translate(${p.x0},0)`)
    .call(d3.axisLeft(y).tickValues(p.yTicks).tickSize(-5.3).tickPadding(5).tickFormat(fmt)).call(styleAxis);
  g.append("g").attr("transform", `translate(${p.x0},0)`)
    .call(d3.axisLeft(y).tickValues(yMinor).tickSize(-2.7).tickFormat("")).call(styleAxis);
  g.append("g").attr("transform", `translate(${p.x1},0)`)
    .call(d3.axisRight(y).tickValues(p.yTicks).tickSize(-5.3).tickFormat("")).call(styleAxis);
  g.append("g").attr("transform", `translate(${p.x1},0)`)
    .call(d3.axisRight(y).tickValues(yMinor).tickSize(-2.7).tickFormat("")).call(styleAxis);

  const cx = (p.x0 + p.x1) / 2;
  g.append("text").attr("x", cx).attr("y", 47).attr("text-anchor", "middle")
    .style("font-family", FONT).style("font-size", "22.5px").text(p.title);
  g.append("text").attr("x", cx).attr("y", 273).attr("text-anchor", "middle")
    .style("font-family", FONT).style("font-size", "19.5px").text("Time-step");
});

const legendColors = [COLORS.pathwise, COLORS.score, COLORS.prior, COLORS.truth];
const lg = svg.append("g");
legendLabels.forEach((lab, i) => {
  const yy = 104 + i * 25.6;
  lg.append("line").attr("x1", 718).attr("x2", 752).attr("y1", yy).attr("y2", yy)
    .attr("stroke", legendColors[i]).attr("stroke-width", i === 3 ? 2.4 : 2)
    .attr("stroke-dasharray", i === 3 ? "8,4" : null);
  lg.append("text").attr("x", 770).attr("y", yy + 6.5)
    .style("font-family", FONT).style("font-size", "19.5px").text(lab);
});
</script>
</body></html>
